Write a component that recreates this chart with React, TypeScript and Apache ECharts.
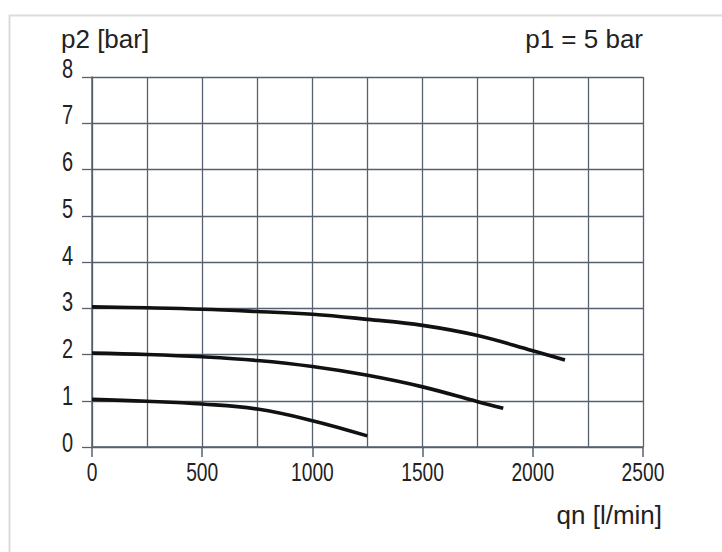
import React, { useEffect, useRef } from "react";
import * as echarts from "echarts";

const flowTicks = [0, 250, 500, 750, 1000, 1250, 1500, 1750, 2000];
const curveP2_3 = [3.03, 3.01, 2.98, 2.93, 2.87, 2.76, 2.63, 2.41, 2.08];
const curveP2_3End: [number, number] = [2146, 1.88];
const curveP2_2 = [2.03, 2.0, 1.95, 1.87, 1.74, 1.55, 1.3, 0.98];
const curveP2_2End: [number, number] = [1866, 0.84];
const curveP2_1 = [1.03, 0.99, 0.93, 0.82, 0.57];
const curveP2_1End: [number, number] = [1249, 0.24];

const xLabelValues = [0, 500, 1000, 1500, 2000, 2500];
const yLabelValues = [0, 1, 2, 3, 4, 5, 6, 7, 8];

const toPairs = (vals: number[], end: [number, number]) => [
  ...vals.map((v, i) => [flowTicks[i], v]),
  end,
];

const GRID = "#56606e";
const TEXT = "#222222";
const REG = "'Liberation Sans', Arial, sans-serif";

export default function App() {
  const ref = useRef<HTMLDivElement>(null);
  useEffect(() => {
    if (!ref.current) return;
    const chart = echarts.init(ref.current, undefined, { renderer: "svg" });
    const lineSeries = (name: string, data: number[][]) => ({
      name,
      type: "line",
      data,
      smooth: 0.4,
      showSymbol: false,
      symbol: "none",
      lineStyle: { color: "#111", width: 3.6, cap: "butt" },
      z: 5,
    });
    const baseGraphic: any[] = [
      {
        id: "frame",
        type: "rect",
        left: 7,
        top: 13,
        shape: { width: 760, height: 600 },
        style: { fill: "none", stroke: "#dcdcdc", lineWidth: 2 },
        silent: true,
        z: -10,
      },
      {
        id: "xname",
        type: "text",
        right: 60,
        top: 502,
        style: { text: "qn [l/min]", font: `26px ${REG}`, fill: TEXT },
      },
    ];
    chart.setOption({
      animation: false,
      backgroundColor: "#ffffff",
      grid: { left: 92, top: 77, width: 551, height: 370, containLabel: false },
      title: [
        {
          text: "p2 [bar]",
          left: 61,
          top: 26,
          padding: 0,
          textStyle: { fontFamily: REG, fontSize: 26, fontWeight: "normal", color: TEXT },
        },
        {
          text: "p1 = 5 bar",
          right: 79,
          top: 26,
          padding: 0,
          textStyle: { fontFamily: REG, fontSize: 26, fontWeight: "normal", color: TEXT },
        },
      ],
      graphic: baseGraphic,
      xAxis: [
        {
          type: "value",
          min: 0,
          max: 2500,
          interval: 250,
          axisLine: { show: false },
          axisTick: { show: false },
          axisLabel: { show: false },
          splitLine: { show: true, lineStyle: { color: GRID, width: 1.3 } },
        },
        {
          type: "value",
          position: "bottom",
          min: 0,
          max: 2500,
          interval: 500,
          axisLine: { show: true, onZero: false, lineStyle: { color: GRID, width: 1.5 } },
          axisTick: { show: true, inside: false, length: 10, lineStyle: { color: GRID, width: 1.5 } },
          axisLabel: { show: false },
          splitLine: { show: false },
        },
      ],
      yAxis: {
        type: "value",
        min: 0,
        max: 8,
        interval: 1,
        axisLine: { show: true, onZero: false, lineStyle: { color: GRID, width: 1.5 } },
        axisTick: { show: true, inside: false, length: 10, lineStyle: { color: GRID, width: 1.3 } },
        axisLabel: { show: false },
        splitLine: { show: true, lineStyle: { color: GRID, width: 1.3 } },
      },
      series: [
        lineSeries("p2=3", toPairs(curveP2_3, curveP2_3End)),
        lineSeries("p2=2", toPairs(curveP2_2, curveP2_2End)),
        lineSeries("p2=1", toPairs(curveP2_1, curveP2_1End)),
      ],
    });

    // Condensed tick labels positioned through the axes' own scales
    const xAxisY = chart.convertToPixel({ yAxisIndex: 0 }, 0) as number;
    const yAxisX = chart.convertToPixel({ xAxisIndex: 1 }, 0) as number;
    const labels: any[] = [];
    xLabelValues.forEach((v, i) => {
      const px = chart.convertToPixel({ xAxisIndex: 1 }, v) as number;
      labels.push({
        id: "xl" + i,
        type: "text",
        x: px,
        y: xAxisY + 25,
        scaleX: 0.74,
        style: {
          text: String(v),
          font: `26px ${REG}`,
          fill: TEXT,
          textAlign: "center",
          align: "center",
          textVerticalAlign: "middle",
          verticalAlign: "middle",
        },
      });
    });
    yLabelValues.forEach((v, i) => {
      const py = chart.convertToPixel({ yAxisIndex: 0 }, v) as number;
      labels.push({
        id: "yl" + i,
        type: "text",
        x: yAxisX - 19,
        y: py - 5 - 0.5 * v,
        scaleX: 0.74,
        style: {
          text: String(v),
          font: `27px ${REG}`,
          fill: TEXT,
          textAlign: "right",
          align: "right",
          textVerticalAlign: "middle",
          verticalAlign: "middle",
        },
      });
    });
    chart.setOption({ graphic: [...baseGraphic, ...labels] });
    return () => chart.dispose();
  }, []);
  return (
    <div style={{ position: "fixed", left: 0, top: 0, width: 722, height: 552, background: "#fff" }}>
      <div ref={ref} style={{ width: 722, height: 552 }} />
    </div>
  );
}
